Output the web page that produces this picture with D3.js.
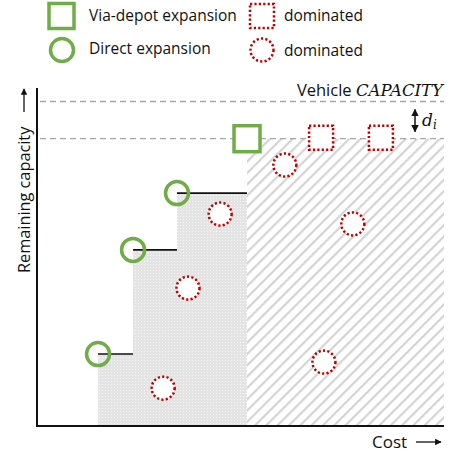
<!DOCTYPE html>
<html><head><meta charset="utf-8">
<script src="https://cdn.jsdelivr.net/npm/d3@7"></script>
<style>body{margin:0;background:#fff}svg{display:block}</style>
</head><body>
<svg id="c" width="453" height="455"></svg>
<script>
// ---- data (cost, remaining capacity in abstract units 0..100) ----
const vehicleCapacity = 96;
const afterDepotCapacity = 85;
const directExpansions = [ {cost:15.0, cap:21.3}, {cost:23.6, cap:52.1}, {cost:34.4, cap:68.9} ];
const frontierEnds = [23.6, 34.4, 51.6];
const viaDepotExpansion = [ {cost:51.6, cap:85.0} ];
const dominatedSquares = [ {cost:69.8, cap:85.3}, {cost:84.5, cap:85.3} ];
const dominatedCircles = [ {cost:60.9, cap:77.2}, {cost:45.0, cap:62.7}, {cost:37.1, cap:40.8},
                           {cost:77.6, cap:59.8}, {cost:31.0, cap:11.2}, {cost:70.5, cap:18.9} ];
const legendLabels = ["Via-depot expansion", "Direct expansion", "dominated", "dominated"];

const svg = d3.select("#c");
const x = d3.scaleLinear().domain([0,100]).range([37,444]);
const y = d3.scaleLinear().domain([0,100]).range([426,88]);
const green = "#70ad47", red = "#c00000";
const font = "'Open Sans', sans-serif";

const defs = svg.append("defs");
const dp = defs.append("pattern").attr("id","dots").attr("patternUnits","userSpaceOnUse").attr("width",3).attr("height",3);
dp.append("rect").attr("width",3).attr("height",3).attr("fill","#e4e4e4");
dp.append("rect").attr("width",1).attr("height",1).attr("fill","#f6f6f6");
const hp = defs.append("pattern").attr("id","hatch").attr("patternUnits","userSpaceOnUse").attr("width",8).attr("height",8)
  .attr("patternTransform","rotate(45)");
hp.append("rect").attr("width",8).attr("height",8).attr("fill","#fff");
hp.append("rect").attr("width",2.2).attr("height",8).attr("fill","#d4d4d4");

// stepped dotted region
directExpansions.forEach((d,i)=>{
  svg.append("rect").attr("x",x(d.cost)).attr("y",y(d.cap))
    .attr("width",x(frontierEnds[i])-x(d.cost)).attr("height",y(0)-y(d.cap)).attr("fill","url(#dots)");
});
// hatched region
svg.append("rect").attr("x",x(viaDepotExpansion[0].cost)).attr("y",y(afterDepotCapacity))
  .attr("width",x(100)-x(viaDepotExpansion[0].cost)).attr("height",y(0)-y(afterDepotCapacity)).attr("fill","url(#hatch)");

// dashed lines
[vehicleCapacity, afterDepotCapacity].forEach(v=>{
  svg.append("line").attr("x1",x(0)+3).attr("x2",x(100)).attr("y1",y(v)).attr("y2",y(v))
    .attr("stroke","#a6a6a6").attr("stroke-width",1.3).attr("stroke-dasharray","6,4");
});

// axes
svg.append("path").attr("d",`M${x(0)},${y(100)}V${y(0)}H${x(100)}`).attr("fill","none").attr("stroke","#111").attr("stroke-width",2);

// black frontier lines
directExpansions.forEach((d,i)=>{
  svg.append("line").attr("x1",x(d.cost)).attr("x2",x(frontierEnds[i])).attr("y1",y(d.cap)).attr("y2",y(d.cap))
    .attr("stroke","#111").attr("stroke-width",1.6);
});

const R = 12.5, S = 26;
// green circles
svg.selectAll(".gc").data(directExpansions).join("circle").attr("cx",d=>x(d.cost)).attr("cy",d=>y(d.cap)).attr("r",R-1)
  .attr("fill","none").attr("stroke",green).attr("stroke-width",3.5);
svg.selectAll(".gs").data(viaDepotExpansion).join("rect").attr("x",d=>x(d.cost)-S/2).attr("y",d=>y(d.cap)-S/2)
  .attr("width",S).attr("height",S).attr("fill","#fff").attr("stroke",green).attr("stroke-width",3.5);
svg.selectAll(".rs").data(dominatedSquares).join("rect").attr("x",d=>x(d.cost)-12).attr("y",d=>y(d.cap)-12)
  .attr("width",24).attr("height",24).attr("fill","#fff").attr("stroke",red).attr("stroke-width",2.5).attr("stroke-dasharray","2.2,2.2");
svg.selectAll(".rc").data(dominatedCircles).join("circle").attr("cx",d=>x(d.cost)).attr("cy",d=>y(d.cap)).attr("r",11.5)
  .attr("fill","#fff").attr("stroke",red).attr("stroke-width",2.5).attr("stroke-dasharray","2.2,2.2");

// legend
const lg = svg.append("g");
lg.append("rect").attr("x",49).attr("y",3.5).attr("width",25).attr("height",25).attr("fill","none").attr("stroke",green).attr("stroke-width",3.5);
lg.append("circle").attr("cx",62).attr("cy",50).attr("r",11.5).attr("fill","none").attr("stroke",green).attr("stroke-width",3.5);
lg.append("rect").attr("x",250).attr("y",4).attr("width",24).attr("height",24).attr("fill","none").attr("stroke",red).attr("stroke-width",2.5).attr("stroke-dasharray","2.2,2.2");
lg.append("circle").attr("cx",262).attr("cy",50).attr("r",11.5).attr("fill","none").attr("stroke",red).attr("stroke-width",2.5).attr("stroke-dasharray","2.2,2.2");
[[89,21],[89,54],[284,21],[284,56]].forEach((p,i)=>{
  lg.append("text").attr("x",p[0]).attr("y",p[1]).text(legendLabels[i]).attr("font-family",font).attr("font-size",15.5).attr("fill","#111");
});

// Vehicle CAPACITY
const vt = svg.append("text").attr("x",443).attr("y",96).attr("text-anchor","end").attr("font-size",16.5).attr("fill","#111");
vt.append("tspan").text("Vehicle ").attr("font-family",font);
vt.append("tspan").text("CAPACITY").attr("font-family","'DejaVu Serif', serif").attr("font-style","italic").attr("font-size",16.5);

// d_i arrow
defs.append("marker").attr("id","ah").attr("viewBox","0 0 10 10").attr("refX",9).attr("refY",5).attr("markerWidth",5).attr("markerHeight",5)
  .attr("orient","auto-start-reverse").append("path").attr("d","M0,0L10,5L0,10z").attr("fill","#111");
svg.append("line").attr("x1",415).attr("x2",415).attr("y1",y(vehicleCapacity)+8).attr("y2",y(afterDepotCapacity)-7)
  .attr("stroke","#111").attr("stroke-width",1.5).attr("marker-start","url(#ah)").attr("marker-end","url(#ah)");
const dt = svg.append("text").attr("x",422).attr("y",126).attr("font-family","'DejaVu Serif', serif").attr("font-style","italic").attr("font-size",17).attr("fill","#111");
dt.append("tspan").text("d");
dt.append("tspan").text("i").attr("font-size",12).attr("dy",3);

// axis labels
svg.append("text").attr("transform","translate(30,273) rotate(-90)").attr("font-family",font).attr("font-size",16.3).attr("fill","#111").text("Remaining capacity");
svg.append("line").attr("x1",24).attr("x2",24).attr("y1",112).attr("y2",89).attr("stroke","#111").attr("stroke-width",1.3).attr("marker-end","url(#ah)");
svg.append("text").attr("x",372).attr("y",448).attr("font-family",font).attr("font-size",17).attr("fill","#111").text("Cost");
svg.append("line").attr("x1",416).attr("x2",441).attr("y1",442).attr("y2",442).attr("stroke","#111").attr("stroke-width",1.3).attr("marker-end","url(#ah)");
</script>
</body></html>
